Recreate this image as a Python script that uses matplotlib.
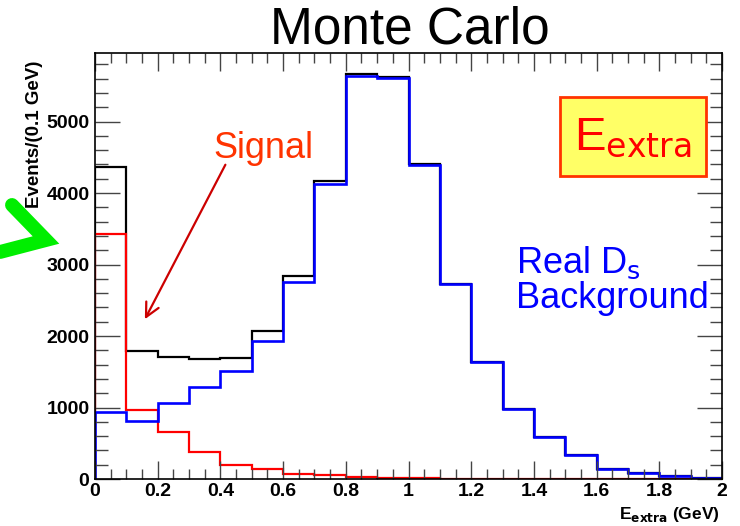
import matplotlib
matplotlib.use("Agg")
import matplotlib.pyplot as plt
import numpy as np

plt.rcParams['font.family'] = ['Liberation Sans', 'DejaVu Sans']

# bin edges, 0.1 GeV wide
edges = np.round(np.arange(0, 2.01, 0.1), 2)

# values
total = [4360, 1786, 1706, 1678, 1692, 2066, 2835, 4163, 5664, 5627,
         4401, 2731, 1632, 979, 583, 340, 144, 84, 46, 14]
signal = [3430, 969, 653, 382, 196, 135, 74, 51, 30, 20,
          10, 6, 4, 3, 2, 1, 1, 0, 0, 0]
bkg = [933, 815, 1059, 1287, 1506, 1926, 2755, 4126, 5636, 5612,
       4395, 2727, 1630, 978, 582, 340, 144, 84, 46, 14]

fig = plt.figure(figsize=(7.4, 5.26), dpi=100)
ax = fig.add_axes([95/740, 1-479/526, 627/740, (479-53.3)/526])

ax.stairs(total, edges, color='black', lw=1.6)
ax.stairs(signal, edges, color='#ff0000', lw=1.6)
ax.stairs(bkg, edges, color='#0000ff', lw=1.9)

ax.set_xlim(0, 2)
ax.set_ylim(0, 5954)
ax.set_xticks(np.arange(0, 2.01, 0.2))
ax.set_xticklabels(['0', '0.2', '0.4', '0.6', '0.8', '1', '1.2', '1.4', '1.6', '1.8', '2'])
ax.set_xticks(np.arange(0, 2.01, 0.05), minor=True)
ax.set_yticks(np.arange(0, 5001, 1000))
ax.set_yticks(np.arange(0, 5901, 200), minor=True)
ax.tick_params(which='both', direction='in', top=True, right=True, width=1, color='#444444')
ax.tick_params(axis='x', which='major', length=13, pad=3)
ax.tick_params(axis='x', which='minor', length=7)
ax.tick_params(axis='y', which='major', length=18, pad=4)
ax.tick_params(axis='y', which='minor', length=9)
for lab in ax.get_xticklabels() + ax.get_yticklabels():
    lab.set_fontsize(14)
    lab.set_fontweight('bold')
for s in ax.spines.values():
    s.set_linewidth(1.2)

fig.text(410/740, 1-30/526, 'Monte Carlo', fontsize=37, ha='center', va='center')
fig.text(35/740, 1-134/526, 'Events/(0.1 GeV)', fontsize=13.5, fontweight='bold',
         rotation=90, ha='center', va='center')
fig.text(720/740, 1-514/526, r'E$_{\mathbf{extra}}$ (GeV)', fontsize=12.5, fontweight='bold',
         ha='right', va='center')

# annotations
fig.text(263/740, 1-148/526, 'Signal', fontsize=26, color='#ff3300', ha='center', va='center')
ax.annotate('', xy=(0.155, 2200), xytext=(0.42, 4430),
            arrowprops=dict(arrowstyle='->,head_length=1.0,head_width=0.5', color='#cc0000', lw=1.6))
fig.text(516/740, 1-280/526, 'Real D$_\\mathrm{s}$\nBackground', fontsize=26, color='#0000ff',
         ha='left', va='center', multialignment='left', linespacing=1.0)

box = plt.Rectangle((560/740, 1-176/526), 146/740, 79/526, transform=fig.transFigure,
                    facecolor='#ffff66', edgecolor='#ff3300', lw=2)
fig.patches.append(box)
fig.text(633/740, 1-137/526, r'E$_{\mathrm{extra}}$', fontsize=34, color='#ff0000',
         ha='center', va='center')

# green marker on the left edge
fig.lines.append(plt.Line2D([12/740, 46/740, 0/740], [1-205/526, 1-240/526, 1-252/526],
                            transform=fig.transFigure, color='#00ee00', lw=10,
                            solid_capstyle='round', solid_joinstyle='miter'))

fig.savefig('out.png', dpi=100)
